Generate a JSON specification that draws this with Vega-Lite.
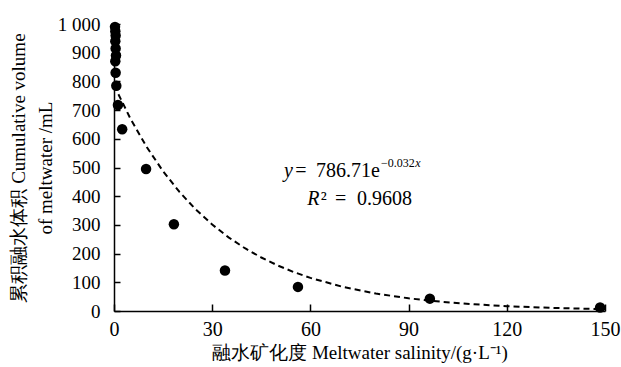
{
  "$schema": "https://vega.github.io/schema/vega-lite/v6.json",
  "autosize": "none",
  "width": 491,
  "height": 287,
  "padding": {"left": 114, "top": 24, "right": 16, "bottom": 56},
  "background": "white",
  "config": {
    "view": {"stroke": null},
    "axis": {"grid": false, "domainColor": "black", "tickColor": "black", "labelColor": "black", "titleColor": "black", "titleFontWeight": "normal", "domainWidth": 1.5, "tickWidth": 1.5, "labelFont": "Liberation Serif", "titleFont": "Liberation Serif"}
  },
  "resolve": {"axis": {"x": "independent", "y": "independent"}},
  "datasets": {
    "pts": [
      {"s": 0.3, "v": 990}, {"s": 0.4, "v": 975}, {"s": 0.5, "v": 960}, {"s": 0.4, "v": 940},
      {"s": 0.5, "v": 915}, {"s": 0.6, "v": 890}, {"s": 0.4, "v": 870}, {"s": 0.5, "v": 830},
      {"s": 0.7, "v": 785}, {"s": 1.2, "v": 718}, {"s": 2.5, "v": 633}, {"s": 9.8, "v": 495},
      {"s": 18.3, "v": 302}, {"s": 33.9, "v": 141}, {"s": 56.2, "v": 84}, {"s": 96.5, "v": 43},
      {"s": 148.5, "v": 12}
    ],
    "fit": [
      {"s": 0, "v": 786.7}, {"s": 5, "v": 670.4}, {"s": 10, "v": 571.2}, {"s": 15, "v": 486.8},
      {"s": 20, "v": 414.8}, {"s": 25, "v": 353.5}, {"s": 30, "v": 301.2}, {"s": 35, "v": 256.7},
      {"s": 40, "v": 218.7}, {"s": 45, "v": 186.4}, {"s": 50, "v": 158.8}, {"s": 55, "v": 135.3},
      {"s": 60, "v": 115.3}, {"s": 70, "v": 83.8}, {"s": 80, "v": 60.8}, {"s": 90, "v": 44.2},
      {"s": 100, "v": 32.1}, {"s": 110, "v": 23.3}, {"s": 120, "v": 16.9}, {"s": 130, "v": 12.3},
      {"s": 140, "v": 8.9}, {"s": 150, "v": 6.5}
    ]
  },
  "layer": [
    {
      "data": {"name": "fit"},
      "mark": {"type": "line", "color": "black", "strokeDash": [6, 4], "strokeWidth": 2},
      "encoding": {
        "x": {"field": "s", "type": "quantitative", "scale": {"domain": [0, 150], "nice": false},
          "axis": {"values": [0, 30, 60, 90, 120, 150], "tickSize": -7, "labelPadding": 15, "labelFont": "Liberation Serif", "titleFont": "Liberation Serif", "labelFontSize": 20, "titleFontSize": 19, "labelFlush": false, "labelOverlap": false, "title": "融水矿化度 Meltwater salinity/(g·L⁻¹)", "titlePadding": 4}},
        "y": {"field": "v", "type": "quantitative", "scale": {"domain": [0, 1000], "nice": false},
          "axis": {"values": [0, 100, 200, 300, 400, 500, 600, 700, 800, 900, 1000], "tickSize": -6, "labelPadding": 20, "labelFont": "Liberation Serif", "titleFont": "Liberation Serif", "labelFontSize": 19, "titleFontSize": 19, "labelOverlap": false, "labelFlush": false, "labelBound": false, "labelExpr": "datum.value == 1000 ? '1 000' : datum.label", "title": ["累积融水体积 Cumulative volume", "of meltwater /mL"], "titlePadding": 2, "titleLineHeight": 27}}
      }
    },
    {
      "data": {"name": "pts"},
      "mark": {"type": "point", "filled": true, "color": "black", "size": 110, "opacity": 1},
      "encoding": {
        "x": {"field": "s", "type": "quantitative", "axis": null},
        "y": {"field": "v", "type": "quantitative", "axis": null}
      }
    },
    {
      "data": {"values": [{}]},
      "mark": {"type": "text", "text": "y", "font": "Liberation Serif", "fontStyle": "italic", "fontSize": 20, "align": "left", "baseline": "alphabetic", "color": "black"},
      "encoding": {"x": {"datum": 51.9, "type": "quantitative", "axis": null}, "y": {"datum": 467, "type": "quantitative", "axis": null}}
    },
    {
      "data": {"values": [{}]},
      "mark": {"type": "text", "text": "=", "font": "Liberation Serif", "fontSize": 20, "align": "left", "baseline": "alphabetic", "color": "black"},
      "encoding": {"x": {"datum": 55.4, "type": "quantitative", "axis": null}, "y": {"datum": 467, "type": "quantitative", "axis": null}}
    },
    {
      "data": {"values": [{}]},
      "mark": {"type": "text", "text": "786.71e", "font": "Liberation Serif", "fontSize": 20, "align": "left", "baseline": "alphabetic", "color": "black"},
      "encoding": {"x": {"datum": 61.7, "type": "quantitative", "axis": null}, "y": {"datum": 467, "type": "quantitative", "axis": null}}
    },
    {
      "data": {"values": [{}]},
      "mark": {"type": "text", "text": "−0.032", "font": "Liberation Serif", "fontSize": 12, "align": "left", "baseline": "alphabetic", "color": "black"},
      "encoding": {"x": {"datum": 81.6, "type": "quantitative", "axis": null}, "y": {"datum": 502, "type": "quantitative", "axis": null}}
    },
    {
      "data": {"values": [{}]},
      "mark": {"type": "text", "text": "x", "font": "Liberation Serif", "fontSize": 12, "fontStyle": "italic", "align": "left", "baseline": "alphabetic", "color": "black"},
      "encoding": {"x": {"datum": 92.0, "type": "quantitative", "axis": null}, "y": {"datum": 502, "type": "quantitative", "axis": null}}
    },
    {
      "data": {"values": [{}]},
      "mark": {"type": "text", "text": "R", "font": "Liberation Serif", "fontStyle": "italic", "fontSize": 20, "align": "left", "baseline": "alphabetic", "color": "black"},
      "encoding": {"x": {"datum": 59.0, "type": "quantitative", "axis": null}, "y": {"datum": 369, "type": "quantitative", "axis": null}}
    },
    {
      "data": {"values": [{}]},
      "mark": {"type": "text", "text": "²", "font": "Liberation Serif", "fontSize": 20, "align": "left", "baseline": "alphabetic", "color": "black"},
      "encoding": {"x": {"datum": 63.2, "type": "quantitative", "axis": null}, "y": {"datum": 369, "type": "quantitative", "axis": null}}
    },
    {
      "data": {"values": [{}]},
      "mark": {"type": "text", "text": "=", "font": "Liberation Serif", "fontSize": 20, "align": "left", "baseline": "alphabetic", "color": "black"},
      "encoding": {"x": {"datum": 67.5, "type": "quantitative", "axis": null}, "y": {"datum": 369, "type": "quantitative", "axis": null}}
    },
    {
      "data": {"values": [{}]},
      "mark": {"type": "text", "text": "0.9608", "font": "Liberation Serif", "fontSize": 20, "align": "left", "baseline": "alphabetic", "color": "black"},
      "encoding": {"x": {"datum": 74.2, "type": "quantitative", "axis": null}, "y": {"datum": 369, "type": "quantitative", "axis": null}}
    }
  ]
}
